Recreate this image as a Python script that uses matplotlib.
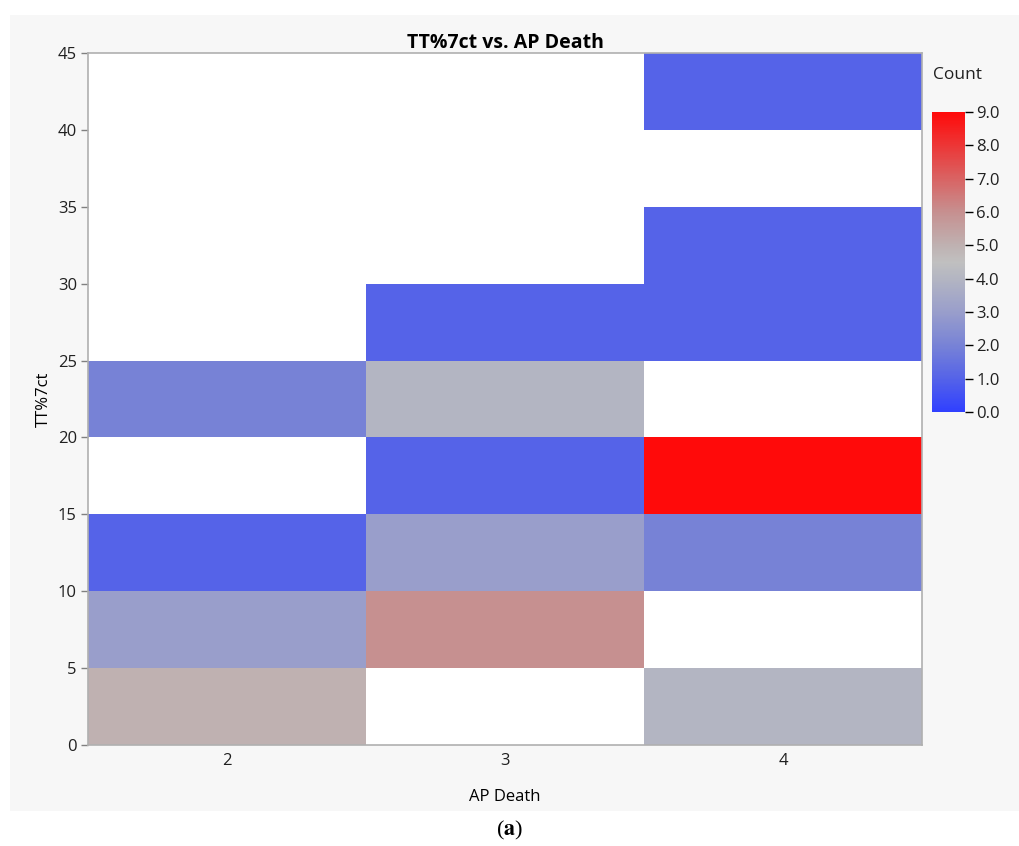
import numpy as np
import matplotlib
matplotlib.use("Agg")
import matplotlib.pyplot as plt
from matplotlib.colors import LinearSegmentedColormap
from matplotlib.patches import Rectangle

plt.rcParams['font.family'] = ['Open Sans', 'DejaVu Sans']
plt.rcParams['mathtext.fontset'] = 'stix'

# ---- data ----
ap_death = [2, 3, 4]
y_edges = [0, 5, 10, 15, 20, 25, 30, 35, 40, 45]
nan = np.nan
# counts per AP Death column, bins from 0-5 up to 40-45 (nan = empty)
count_2 = [5, 3, 1, nan, 2, nan, nan, nan, nan]
count_3 = [nan, 6, 3, 1, 4, 1, nan, nan, nan]
count_4 = [4, nan, 2, 9, nan, 1, 1, nan, 1]
cbar_ticks = [0, 1, 2, 3, 4, 5, 6, 7, 8, 9]

title = "TT%7ct vs. AP Death"
xlabel = "AP Death"
ylabel = "TT%7ct"

# colormap (JMP-like blue-gray-red)
stops = [(0.0, '#3040ff'), (1/9, '#5563e8'), (2/9, '#7883d6'), (3/9, '#999ecb'),
         (4/9, '#b3b5c2'), (4.5/9, '#c0c0c0'), (5/9, '#bfb1b1'), (6/9, '#c69090'),
         (1.0, '#ff0a0a')]
cmap = LinearSegmentedColormap.from_list('jmp', stops)
cmap.set_bad('white')

counts = np.array([count_2, count_3, count_4], dtype=float).T
data = np.ma.masked_invalid(counts)

fig = plt.figure(figsize=(10.19, 8.46), dpi=100)
# gray panel
fig.patches.append(Rectangle((10/1019, (846-811)/846), 1 - 10/1019, (811-15)/846,
                             transform=fig.transFigure, facecolor='#f7f7f7',
                             edgecolor='none', zorder=-10))

ax = fig.add_axes([88/1019, (846-745)/846, 834/1019, 692/846])
ax.set_zorder(2)
ax.set_facecolor('white')
x_edges = np.arange(len(ap_death) + 1) - 0.5
mesh = ax.pcolormesh(x_edges, y_edges, data, cmap=cmap, vmin=0, vmax=9,
                     linewidth=0, antialiased=False)
ax.set_xlim(x_edges[0], x_edges[-1])
ax.set_ylim(0, 45)
ax.set_xticks(range(len(ap_death)))
ax.set_xticklabels([str(v) for v in ap_death])
ax.set_yticks(range(0, 46, 5))
ax.tick_params(axis='both', labelsize=12, color='#808080', length=5, width=1,
               labelcolor='#202020')
ax.tick_params(axis='x', length=0, pad=6)
ax.tick_params(axis='y', pad=3)
for s in ax.spines.values():
    s.set_color('#b0b0b0')
    s.set_linewidth(1.2)
ax.set_title(title, fontsize=14, fontweight='bold', pad=3)
ax.set_xlabel(xlabel, fontsize=12, labelpad=14)
ax.set_ylabel(ylabel, fontsize=12, labelpad=4)

cax = fig.add_axes([932/1019, (846-412)/846, 33/1019, 300/846])
cax.set_zorder(2)
cb = fig.colorbar(mesh, cax=cax, ticks=cbar_ticks)
cb.outline.set_visible(False)
cb.ax.set_yticklabels([f"{t:.1f}" for t in cbar_ticks])
cb.ax.tick_params(labelsize=12, length=6, width=1, pad=2, labelcolor='#202020')
for t, tk in zip(cbar_ticks, cb.ax.yaxis.get_major_ticks()):
    tk.tick2line.set_color(cmap(t / 9))
fig.text(958/1019, 1 - 75/846, "Count", fontsize=12.5, ha='center', va='center',
         color='#202020')

fig.text(0.5, 1 - 830/846, r"($\mathbf{a}$)", fontsize=16, ha='center', va='center',
         family='Liberation Serif')

fig.savefig("out.png", dpi=100, facecolor='white')
